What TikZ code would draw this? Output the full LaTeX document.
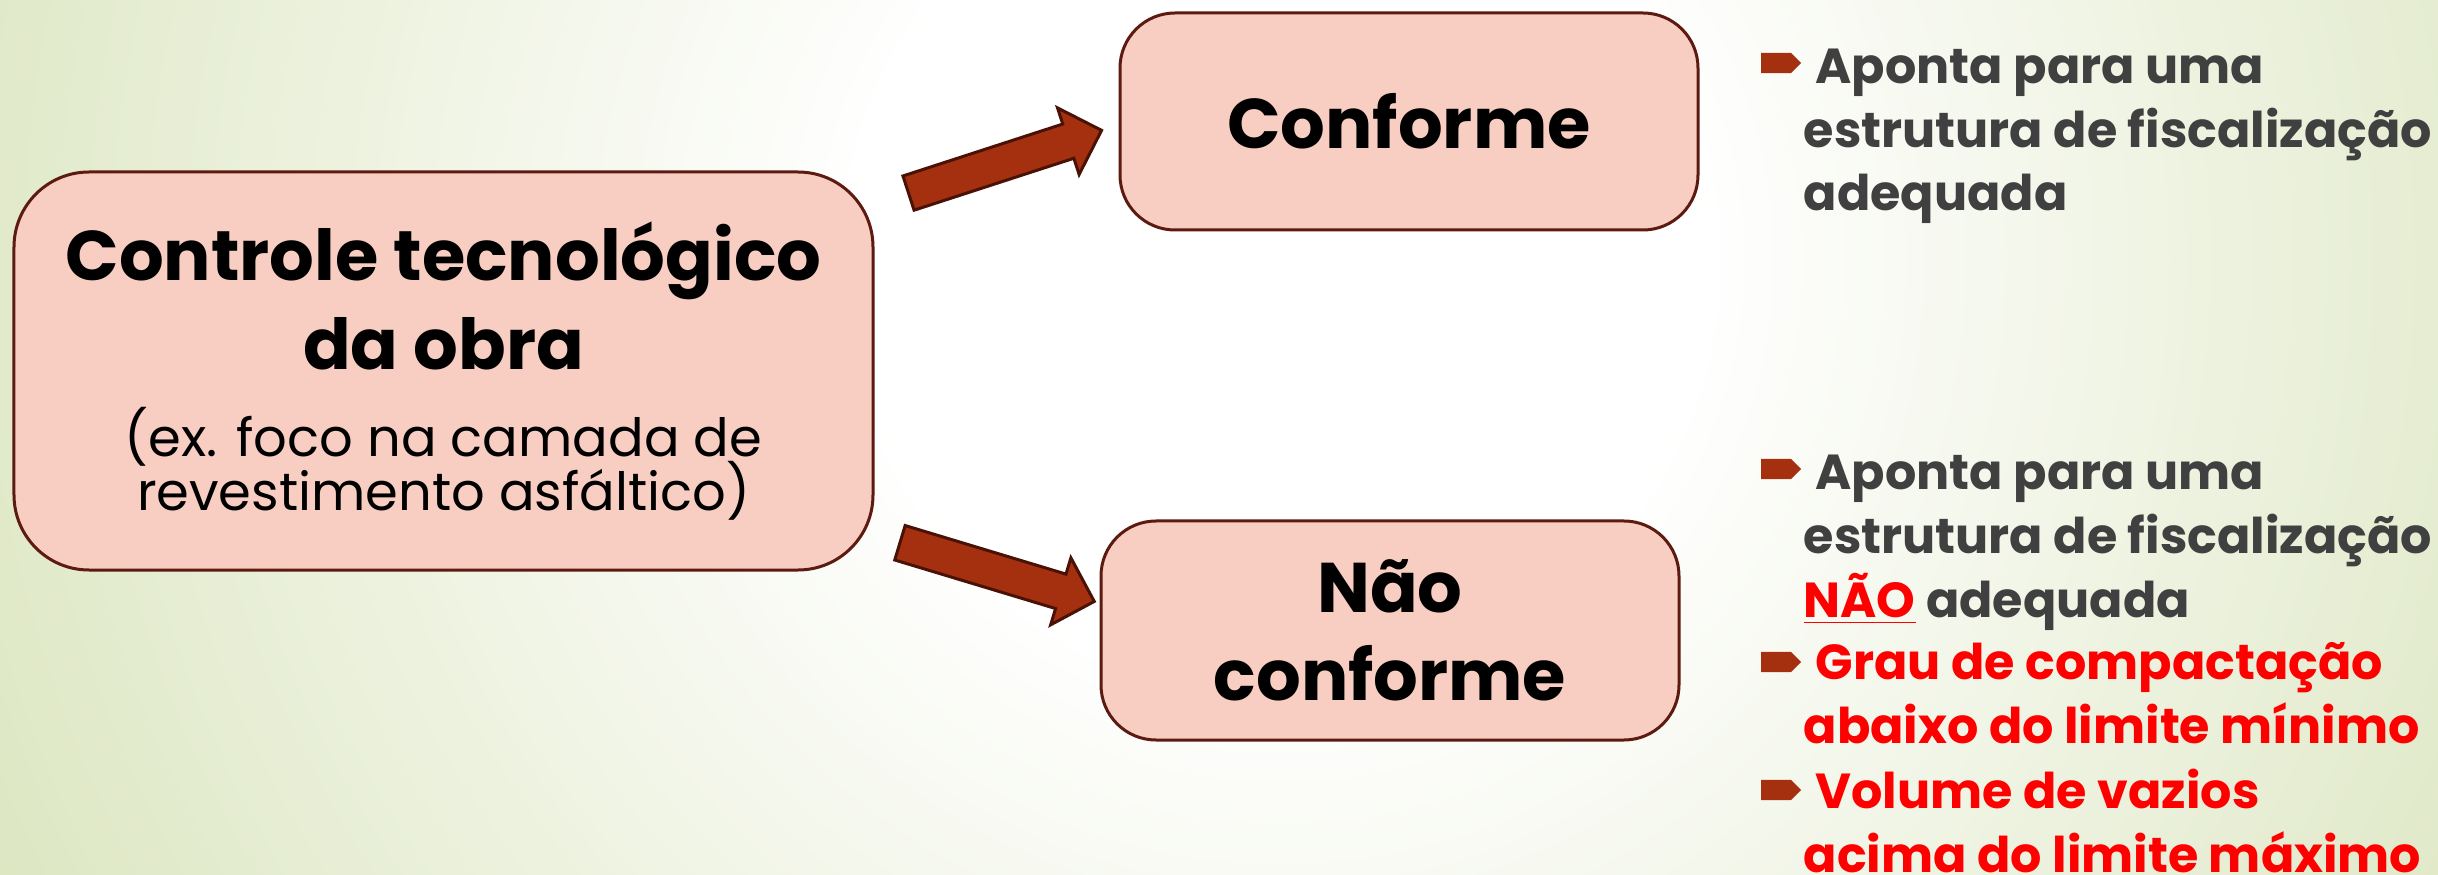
\documentclass[tikz,border=0pt]{standalone}
\usepackage{fontspec}
\setmainfont{Poppins}
\usepackage{tikz}
\usetikzlibrary{calc,positioning,shapes,shapes.arrows,arrows.meta,backgrounds}

\definecolor{fundo}{HTML}{DCE6C1}
\definecolor{rosa}{HTML}{F9CEC2}
\definecolor{bordacaixa}{HTML}{5C1A10}
\definecolor{ferrugem}{HTML}{A5300F}
\definecolor{bordaseta}{HTML}{4A1206}
\definecolor{cinza}{HTML}{404040}
\definecolor{vermelho}{HTML}{FF0000}

\pgfdeclareradialshading{fundoshade}{\pgfpoint{0bp}{0bp}}{%
    color(0bp)=(white); color(7bp)=(white); color(24bp)=(fundo); color(50bp)=(fundo)}

\begin{document}
\begin{tikzpicture}[%
    caixa/.style={draw=bordacaixa, fill=rosa, line width=0.03cm, inner sep=0pt, align=flush center,
        font=\fontsize{20}{25.2}\selectfont\bfseries},
    seta/.style={single arrow, draw=bordaseta, fill=ferrugem, line width=0.03cm, inner xsep=0pt,
        inner ysep=0.165cm, single arrow head extend=0.17cm, minimum height=2.03cm},
    marca/.style={single arrow, fill=ferrugem, inner xsep=0pt, inner ysep=0.095cm,
        single arrow head extend=0pt, minimum height=0.4cm},
    texto/.style={anchor=base west, align=left, inner sep=0pt, font=\fontsize{14}{18.2}\selectfont\bfseries}]

    % fundo
    \begin{scope}
        \clip (0,0) rectangle (24.38,-8.75);
        \shade[shading=fundoshade] (12.8,-2.6) circle (15);
    \end{scope}
    \useasboundingbox (0,0) rectangle (24.38,-8.75);

    \node[caixa, minimum width=8.59cm, minimum height=3.98cm, rounded corners=0.75cm, text width=8.59cm]
        (controle) at (4.435,-3.71) {Controle tecnológico\\da obra\par\vspace{9.3pt}%
        \mdseries\fontsize{15}{15.4}\selectfont\lineskiplimit=-20pt (ex. foco na camada de\\revestimento asfáltico)\par
        \vspace{-11pt}};
    \node[caixa, minimum width=5.78cm, minimum height=2.17cm, rounded corners=0.55cm]
        (conforme) at (14.09,-1.215) {Conforme};
    \node[caixa, minimum width=5.78cm, minimum height=2.19cm, rounded corners=0.55cm]
        (naoconforme) at (13.90,-6.305) {Não\\conforme};

    \node[seta, rotate=18] (seta1) at (9.965,-1.645) {};
    \node[seta, rotate=-16.8] (seta2) at (9.885,-5.695) {};

    % base = ultima linha
    \node[marca] (m1) at (17.76,-0.63) {};
    \node[texto, text=cinza] (t1) at (18.03,-2.11) {\hspace*{0.12cm}Aponta para uma\\estrutura de fiscalização\\adequada};

    \node[marca] (m2) at (17.76,-4.69) {};
    \node[texto, text=cinza] (t2) at (18.03,-6.17)
        {\hspace*{0.12cm}Aponta para uma\\estrutura de fiscalização\\{\color{vermelho}\underline{NÃO}} adequada};
    \node[marca] (m3) at (17.76,-6.62) {};
    \node[texto, text=vermelho] (t3) at (18.03,-7.43) {\hspace*{0.12cm}Grau de compactação\\abaixo do limite mínimo};
    \node[marca] (m4) at (17.76,-7.90) {};
    \node[texto, text=vermelho] (t4) at (18.03,-8.72) {\hspace*{0.12cm}Volume de vazios\\acima do limite máximo};

\end{tikzpicture}
\end{document}
